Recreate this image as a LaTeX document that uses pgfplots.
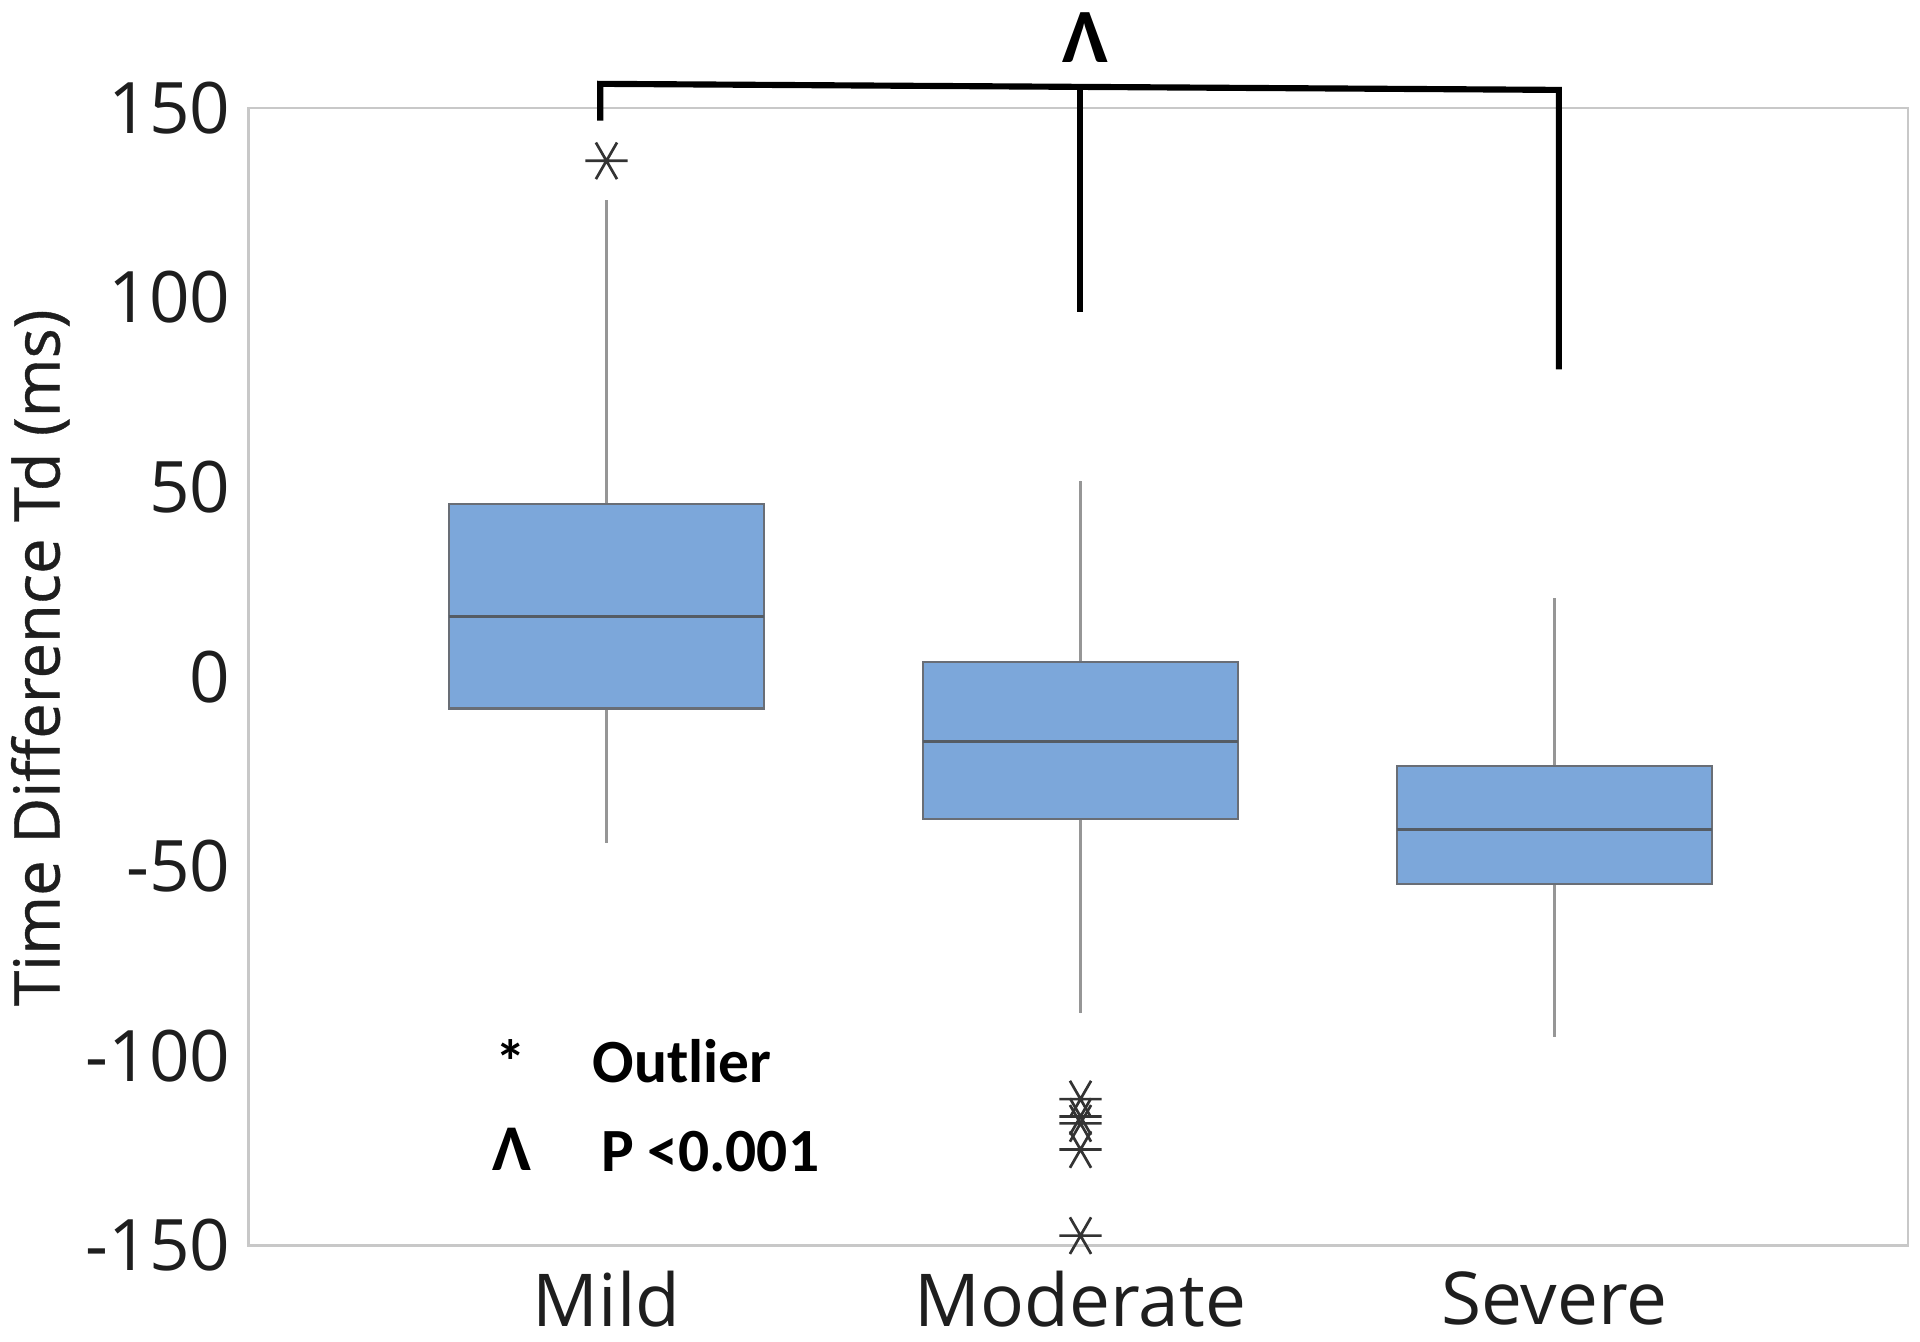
\documentclass[border=0pt]{standalone}
\usepackage{fontspec}
\setmainfont{Open Sans}
\newfontfamily\legfont{Carlito}
\newfontfamily\labfont[FakeBold=0.6]{Open Sans}
\usepackage{pgfplots}
\pgfplotsset{compat=1.18}
\usepgfplotslibrary{statistics}
\definecolor{boxfill}{RGB}{124,167,218}
\definecolor{boxedge}{RGB}{105,110,118}
\definecolor{whiskgray}{RGB}{150,150,150}
\definecolor{mediangray}{RGB}{85,92,100}
\definecolor{framegray}{RGB}{200,200,200}
\definecolor{tickcol}{RGB}{30,30,30}
\begin{document}
\begin{tikzpicture}
\begin{axis}[
  scale only axis, width=432.1pt, height=296.3pt,
  xmin=0.245, xmax=3.745, ymin=-150, ymax=150,
  xtick={1,2,3}, xticklabels={Mild,Moderate,Severe},
  ytick={-150,-100,-50,0,50,100,150},
  major tick length=0pt,
  axis line style={draw=framegray, line width=0.6pt},
  /pgf/number format/assume math mode=true,
  tick label style={text=tickcol},
  yticklabel style={font=\fontsize{18.5}{20}\selectfont, inner sep=0pt, xshift=-4.5pt},
  xticklabel style={font=\fontsize{19}{21}\selectfont, inner sep=0pt, yshift=-6.5pt},
  ylabel={Time Difference Td (ms)},
  ylabel style={font=\labfont\fontsize{16.5}{18}\selectfont, text=tickcol, at={(rel axis cs:-0.1255,0.5167)}, anchor=center},
  clip=false,
  boxplot/draw direction=y,
  boxplot/whisker extend=0,
  boxplot/every whisker/.style={draw=whiskgray, line width=0.6pt},
  boxplot/every median/.style={draw=mediangray, line width=0.8pt},
  boxst/.style={fill=boxfill, draw=boxedge, line width=0.6pt, mark=asterisk, mark size=5.5pt,
    mark options={rotate=90, draw=black!80, line width=0.7pt, fill=none}},
]
\addplot[boxst, boxplot prepared={lower whisker=-43.9, lower quartile=-8.4, median=15.8,
  upper quartile=45.5, upper whisker=125.6, draw position=1, box extend=0.665}]
  table[row sep=\\, y index=0] {data\\ 136\\};
\addplot[boxst, boxplot prepared={lower whisker=-88.8, lower quartile=-37.5, median=-17.1,
  upper quartile=3.9, upper whisker=51.7, draw position=2, box extend=0.665}]
  table[row sep=\\, y index=0] {data\\ -111.4\\ -116\\ -117.8\\ -124.7\\ -147.4\\};
\addplot[boxst, boxplot prepared={lower whisker=-94.9, lower quartile=-54.6, median=-40.4,
  upper quartile=-23.6, upper whisker=20.7, draw position=3, box extend=0.665}]
  coordinates {};
% significance bracket
\draw[line width=1.6pt, black, line join=miter] (axis cs:0.987,146.6) -- (axis cs:0.987,156.3) -- (axis cs:3.009,154.7) -- (axis cs:3.009,81);
\draw[line width=1.6pt, black] (axis cs:1.9995,155.6) -- (axis cs:1.9995,96.2);
\node[font=\legfont\bfseries\fontsize{20}{22}\selectfont, inner sep=0pt] at (axis cs:2.0098,168.5) {Λ};
% legend
\node[font=\legfont\bfseries\fontsize{16}{18}\selectfont, inner sep=0pt] at (axis cs:0.7986,-101.4) {*};
\node[font=\legfont\bfseries\fontsize{16}{18}\selectfont, anchor=west, inner sep=0pt] at (axis cs:0.969,-101.4) {Outlier};
\node[font=\legfont\bfseries\fontsize{17}{18}\selectfont, inner sep=0pt] at (axis cs:0.801,-124.6) {Λ};
\node[font=\legfont\bfseries\fontsize{16}{18}\selectfont, anchor=west, inner sep=0pt] at (axis cs:0.987,-125.3) {P <0.001};
\coordinate (bbl) at (rel axis cs:-0.1498,-0.084);
\coordinate (btr) at (rel axis cs:1.0074,1.0947);
\end{axis}
\pgfresetboundingbox
\path[use as bounding box] (bbl) rectangle (btr);
\end{tikzpicture}
\end{document}
